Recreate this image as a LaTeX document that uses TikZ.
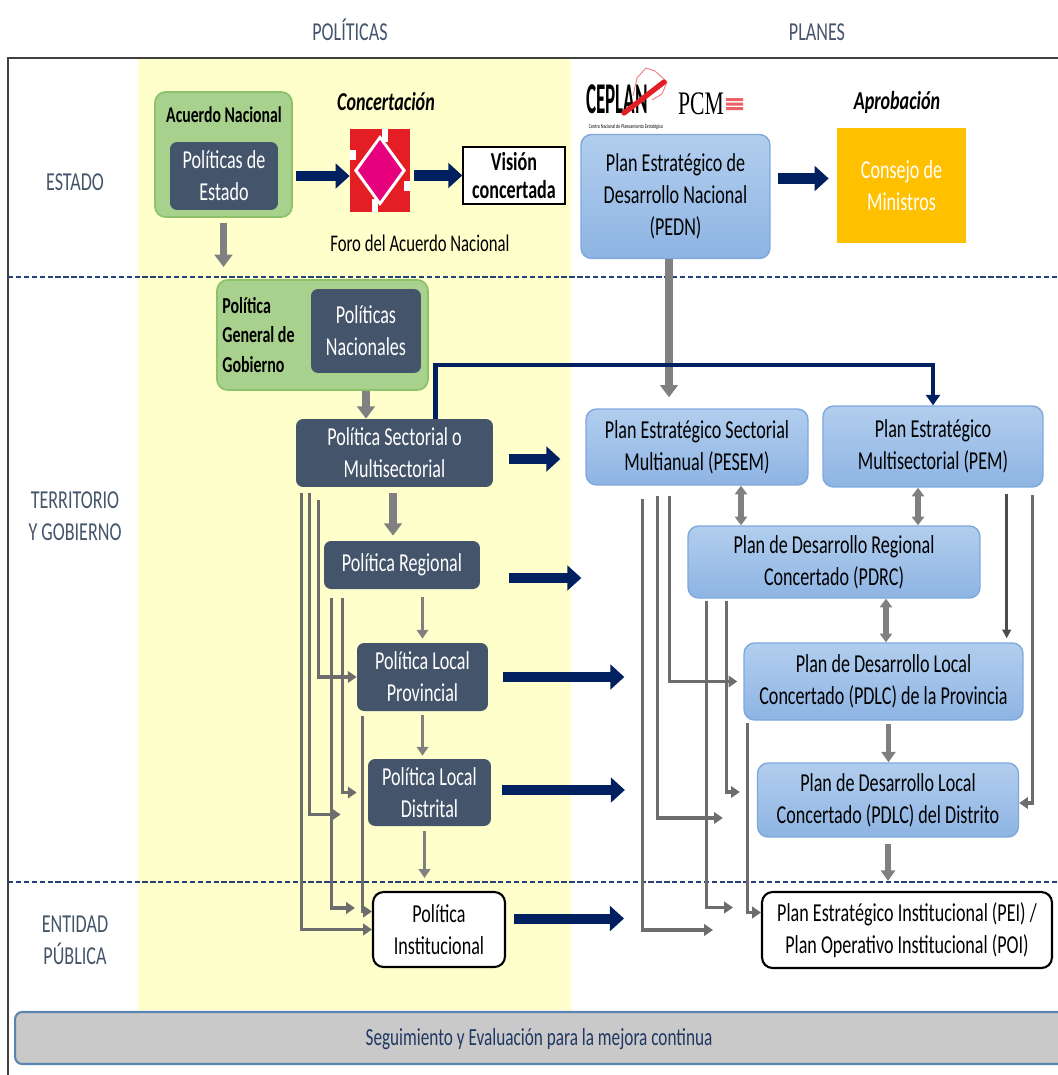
\documentclass[tikz,border=0pt]{standalone}
\usepackage{graphicx}
\usepackage{fontspec}
\setmainfont{Carlito}[FakeStretch=0.7]
\newfontfamily\pcmfont{Liberation Serif}
\usetikzlibrary{arrows.meta}
\definecolor{slate}{HTML}{44546A}
\definecolor{bandyellow}{HTML}{FFFFCC}
\definecolor{greenfill}{HTML}{A9D18E}
\definecolor{greenedge}{HTML}{8CC26A}
\definecolor{planetop}{HTML}{B2CEEE}
\definecolor{planebot}{HTML}{8EB4E3}
\definecolor{planedge}{HTML}{7EA8DC}
\definecolor{navy}{HTML}{002060}
\definecolor{arrowgray}{HTML}{808080}
\definecolor{linkgray}{HTML}{6D6D6D}
\definecolor{gold}{HTML}{FFC000}
\definecolor{logored}{HTML}{E31E24}
\definecolor{logopink}{HTML}{E6007E}
\definecolor{bartext}{HTML}{1F3864}
\definecolor{bargray}{HTML}{C9C9C9}
\definecolor{baredge}{HTML}{5B84B1}
\begin{document}
\begin{tikzpicture}[x=0.02cm,y=-0.02cm,font=\fontsize{14.7}{18.1}\selectfont]
        \tikzstyle{header}=[text=slate,align=center]
        \tikzstyle{darkbox}=[rounded corners=4pt,fill=slate,text=white,align=center,inner sep=0pt]
        \tikzstyle{greenbox}=[rounded corners=6pt,draw=greenedge,fill=greenfill,line width=1pt,inner sep=0pt]
        \tikzstyle{bluebox}=[rounded corners=6pt,draw=planedge,top color=planetop,bottom color=planebot,line width=0.8pt,align=center,inner sep=0pt]
        \tikzstyle{whitebox}=[rounded corners=6pt,draw=black,fill=white,line width=1.2pt,align=center,inner sep=0pt]
        \tikzstyle{divider}=[draw=navy!85,dash pattern=on 3pt off 1.5pt,line width=1pt]
        \tikzstyle{navyarrow}=[draw=navy,line width=5.7pt,-{Triangle[length=8pt,width=14pt]}]
        \tikzstyle{navyline}=[draw=navy,line width=2.3pt,-{Triangle[length=6pt,width=8pt]}]
        \tikzstyle{grayarrow}=[draw=arrowgray,line width=4.5pt,-{Triangle[length=7pt,width=10pt]}]
        \tikzstyle{midarrow}=[draw=arrowgray,line width=3.4pt,-{Triangle[length=6pt,width=8pt]}]
        \tikzstyle{thinarrow}=[draw=arrowgray,line width=2.2pt,-{Triangle[length=5pt,width=6.5pt]}]
        \tikzstyle{twoway}=[draw=arrowgray,line width=3.2pt,{Triangle[length=5pt,width=7pt]}-{Triangle[length=5pt,width=7pt]}]
        \tikzstyle{link}=[draw=linkgray,line width=2pt,-{Triangle[length=5pt,width=6.5pt]}]
        \tikzstyle{pemline}=[draw=black!70,line width=1.6pt,-{Triangle[length=5pt,width=5pt]}]
       \useasboundingbox (0,0) rectangle (1058,1075);
       % fondo y marco
       \fill[bandyellow] (138,58) rectangle (571,1010);
       \draw[black!75,line width=1.2pt] (1080,58) -- (8,58) -- (8,1090);
       \draw[divider] (8,277) -- (1080,277);
       \draw[divider] (8,882) -- (1080,882);
       \node [header] (hpol) at (350,30) {POLÍTICAS};
       \node [header] (hplan) at (817,32) {PLANES};
       \node [header] (estado) at (75,182) {ESTADO};
       \node [header] (territorio) at (75,516) {TERRITORIO\\Y GOBIERNO};
       \node [header] (entidad) at (75,940) {ENTIDAD\\PÚBLICA};
       % estado
       \node [greenbox,minimum width=2.74cm,minimum height=2.5cm] (acuerdo) at (223.5,154.5) {};
       \node [font=\fontsize{12.8}{15}\selectfont\bfseries] (acuerdotitle) at (224,115) {Acuerdo Nacional};
       \node [darkbox,minimum width=2.16cm,minimum height=1.36cm] (polestado) at (224,176) {Políticas de\\Estado};
       \node [inner sep=0pt,minimum width=1.2cm,minimum height=1.66cm] (foro) at (380,170.5) {};
       \fill[logored] (350,129) rectangle (410,212);
       \fill[white] (380,135) -- (406,170.5) -- (380,206) -- (354,170.5) -- cycle;
       \fill[white] (382,129) rectangle (388,142);
       \fill[white] (372,199) rectangle (378,212);
       \fill[white] (350,150) rectangle (356,160);
       \fill[white] (404,181) rectangle (410,191);
       \fill[logopink] (380,140) -- (402,170.5) -- (380,201) -- (358,170.5) -- cycle;
       \node [font=\fontsize{14.7}{18.1}\selectfont\bfseries\itshape] (concertacion) at (386,102) {Concertación};
       \node [font=\fontsize{13.6}{16}\selectfont] (forolabel) at (420,243) {Foro del Acuerdo Nacional};
       \node [draw=black,fill=white,line width=0.8pt,align=center,inner sep=0pt,minimum width=2.04cm,minimum height=1.14cm,font=\fontsize{14.7}{16}\selectfont\bfseries] (vision) at (514,175.5) {Visión\\concertada};
       \node [inner sep=0pt] (ceplan) at (617,99) {\fontsize{25}{25}\selectfont\bfseries\scalebox{0.62}[1]{CEPLAN}};
       \draw[logored!60,line width=0.5pt] (633,96) -- (637,78) -- (646,68) -- (655,71) -- (667,82) -- (662,94) -- (652,100);
       \draw[logored,line width=3pt,line cap=round] (624,113) -- (664,82);
       \node [inner sep=0pt,font=\fontsize{3.3}{4}\selectfont] (ceplansub) at (626,127) {Centro Nacional de Planeamiento Estratégico};
       \node [inner sep=0pt] (pcm) at (701,104) {\pcmfont\fontsize{18.7}{19}\selectfont\scalebox{0.66}[1]{PCM}};
       \fill[logored!70] (726,98) rectangle (743,101) (726,102.5) rectangle (743,105.5) (726,107) rectangle (743,110);
       \node [bluebox,minimum width=3.78cm,minimum height=2.48cm] (pedn) at (675.5,196.5) {Plan Estratégico de\\Desarrollo Nacional\\(PEDN)};
       \node [font=\fontsize{14.7}{18.1}\selectfont\bfseries\itshape] (aprobacion) at (897,102) {Aprobación};
       \node [fill=gold,text=white,align=center,inner sep=0pt,minimum width=2.58cm,minimum height=2.3cm] (consejo) at (901.5,185.5) {Consejo de\\Ministros};
       \coordinate (acdown) at (223.5,267);
       \draw[grayarrow,shorten <=0.1cm] (acuerdo.south) -- (acdown);
       \draw[navyarrow,shorten <=0.06cm] (polestado.east -| acuerdo.east) -- (polestado.east -| foro.west);
       \draw[navyarrow,shorten <=0.08cm] (foro.east |- vision.west) -- (vision.west);
       \draw[navyarrow,shorten <=0.14cm,shorten >=0.16cm] ([yshift=0.36cm]pedn.east) -- ([yshift=0.36cm]pedn.east -| consejo.west);
       % territorio y gobierno
       \node [greenbox,minimum width=4.22cm,minimum height=2.2cm] (pgg) at (322.5,335) {};
       \node [anchor=west,align=left,inner sep=0pt,font=\fontsize{13}{17}\selectfont\bfseries] (pggtext) at (222,335) {Política\\General de\\Gobierno};
       \node [darkbox,minimum width=2.2cm,minimum height=1.68cm] (pnac) at (366,331) {Políticas\\Nacionales};
       \node [darkbox,minimum width=3.94cm,minimum height=1.36cm] (sect) at (394.5,453) {Política Sectorial o\\Multisectorial};
       \node [darkbox,minimum width=3.12cm,minimum height=0.96cm] (reg) at (402,565) {Política Regional};
       \node [darkbox,minimum width=2.62cm,minimum height=1.36cm] (lprov) at (422.5,677) {Política Local\\Provincial};
       \node [darkbox,minimum width=2.46cm,minimum height=1.34cm] (dist) at (429.5,792.5) {Política Local\\Distrital};
       \node [bluebox,minimum width=4.44cm,minimum height=1.52cm] (pesem) at (697,447) {Plan Estratégico Sectorial\\Multianual (PESEM)};
       \node [bluebox,minimum width=4.4cm,minimum height=1.62cm] (pem) at (933,446.5) {Plan Estratégico\\Multisectorial (PEM)};
       \node [bluebox,minimum width=5.84cm,minimum height=1.44cm] (pdrc) at (834,562) {Plan de Desarrollo Regional\\Concertado (PDRC)};
       \node [bluebox,minimum width=5.58cm,minimum height=1.54cm] (pprov) at (883.5,681.5) {Plan de Desarrollo Local\\Concertado (PDLC) de la Provincia};
       \node [bluebox,minimum width=5.22cm,minimum height=1.48cm] (pdist) at (888,800) {Plan de Desarrollo Local\\Concertado (PDLC) del Distrito};
       % entidad publica
       \node [whitebox,minimum width=2.64cm,minimum height=1.5cm] (inst) at (439,929.5) {Política\\Institucional};
       \node [whitebox,minimum width=5.8cm,minimum height=1.52cm] (pei) at (907,930) {Plan Estratégico Institucional (PEI) /\\Plan Operativo Institucional (POI)};
       \node [rounded corners=4pt,draw=baredge,fill=bargray,line width=1.2pt,inner sep=0pt,minimum width=21.02cm,minimum height=1.04cm] (bar) at (540.5,1038) {};
       \node [text=bartext,font=\fontsize{14}{17}\selectfont] (bartxt) at (539,1039) {Seguimiento y Evaluación para la mejora continua};
       % flechas grises
       \draw[grayarrow,shorten >=0.22cm] ([xshift=-0.13cm]pedn.south) -- ([xshift=-0.13cm]pedn.south |- pesem.north);
       \draw[grayarrow] (pnac.south |- pgg.south) -- (pnac.south |- sect.north);
       \draw[grayarrow,shorten <=0.12cm,shorten >=0.1cm] ([xshift=-0.03cm]sect.south) -- ([xshift=-0.03cm]sect.south |- reg.north);
       \draw[thinarrow,shorten <=0.16cm,shorten >=0.08cm] (lprov.north |- reg.south) -- (lprov.north);
       \draw[thinarrow,shorten <=0.08cm,shorten >=0.06cm] (lprov.south) -- (lprov.south |- dist.north);
       \draw[thinarrow,shorten <=0.1cm,shorten >=0.26cm] ([xshift=-0.1cm]dist.south) -- ([xshift=-0.1cm]dist.south |- inst.north);
       \draw[midarrow,shorten <=0.06cm] ([xshift=0.1cm]pprov.south) -- ([xshift=0.1cm]pprov.south |- pdist.north);
       \draw[midarrow,shorten <=0.12cm,shorten >=0.2cm] (pdist.south) -- (pdist.south |- pei.north);
       \draw[twoway] ([xshift=0.88cm]pesem.south) -- ([xshift=0.88cm]pesem.south |- pdrc.north);
       \draw[twoway] ([xshift=-0.3cm]pem.south) -- ([xshift=-0.3cm]pem.south |- pdrc.north);
       \draw[twoway] ([xshift=1.04cm]pdrc.south) -- ([xshift=1.04cm]pdrc.south |- pprov.north);
       \draw[pemline,shorten <=0.12cm,shorten >=0.08cm] ([xshift=-0.74cm]pem.south east) -- ([xshift=-0.74cm]pem.south east |- pprov.north);
       \draw[link,shorten <=0.14cm] ([xshift=-0.22cm]pem.south east) |- ([yshift=-0.06cm]pdist.east);
       % lineas de politicas
       \draw[link,shorten <=0.12cm] ([xshift=0.12cm]sect.south west) |- (inst.west);
       \draw[link,shorten <=0.12cm,shorten >=0.54cm] ([xshift=0.28cm]sect.south west) |- ([yshift=-0.44cm]dist.west);
       \draw[link,shorten <=0.26cm] ([xshift=0.46cm]sect.south west) |- (lprov.west);
       \draw[link,shorten <=0.18cm,shorten >=0.34cm] ([xshift=0.16cm]reg.south west) |- ([yshift=0.43cm]inst.west);
       \draw[link,shorten <=0.18cm,shorten >=0.22cm] ([xshift=0.38cm]reg.south west) |- (dist.west);
       \draw[link,shorten <=0.1cm] ([xshift=0.12cm]lprov.south west) |- ([yshift=0.36cm]inst.west);
       % lineas de planes
       \draw[link,shorten <=0.26cm,shorten >=0.96cm] ([xshift=1.14cm]pesem.south west) |- (pei.west);
       \draw[link,shorten <=0.2cm,shorten >=0.68cm] ([xshift=1.44cm]pesem.south west) |- ([yshift=-0.36cm]pdist.west);
       \draw[link,shorten <=0.2cm,shorten >=0.12cm] ([xshift=1.68cm]pesem.south west) |- (pprov.west);
       \draw[link,shorten <=0.04cm,shorten >=0.56cm] ([xshift=0.38cm]pdrc.south west) |- ([yshift=0.45cm]pei.west);
       \draw[link,shorten <=0.04cm,shorten >=0.34cm] ([xshift=0.78cm]pdrc.south west) |- ([yshift=0.16cm]pdist.west);
       \draw[link,shorten <=0.04cm] ([xshift=0.08cm]pprov.south west) |- ([yshift=0.35cm]pei.west);
       % flechas azules
       \draw[navyline] ([xshift=0.82cm]sect.north) -- ++(0,-54) -| (pem.north);
       \draw[navyarrow,shorten <=0.32cm,shorten >=0.5cm] ([yshift=-0.12cm]sect.east) -- ([yshift=-0.12cm]sect.east -| pesem.west);
       \draw[navyarrow,shorten <=0.58cm,shorten >=2.12cm] ([yshift=-0.26cm]reg.east) -- ([yshift=-0.26cm]reg.east -| pdrc.west);
       \draw[navyarrow,shorten <=0.3cm,shorten >=2.38cm] (lprov.east) -- (lprov.east -| pprov.west);
       \draw[navyarrow,shorten <=0.22cm,shorten >=2.64cm] ([yshift=0.05cm]dist.east) -- ([yshift=0.05cm]dist.east -| pdist.west);
       \draw[navyarrow,shorten <=0.16cm,shorten >=2.74cm] ([yshift=0.22cm]inst.east) -- ([yshift=0.22cm]inst.east -| pei.west);
      \end{tikzpicture}
\end{document}
